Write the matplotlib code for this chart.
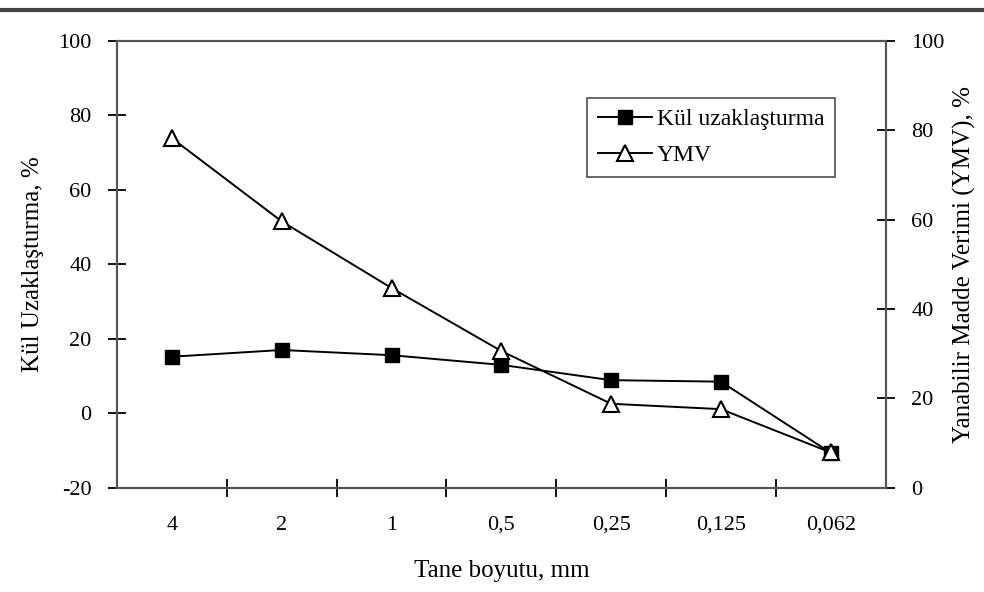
import matplotlib
matplotlib.use('Agg')
import matplotlib.pyplot as plt
from matplotlib.lines import Line2D
import numpy as np

plt.rcParams['font.family'] = ['Liberation Serif', 'DejaVu Serif']
plt.rcParams['axes.unicode_minus'] = False

# tane boyutu kategorileri
boyut = ['4', '2', '1', '0,5', '0,25', '0,125', '0,062']
kul = [15.2, 17.0, 15.6, 13.0, 8.9, 8.5, -10.6]   # sol eksen
ymv = [78.2, 59.6, 44.7, 30.6, 18.8, 17.6, 7.9]   # sag eksen
sol_ticks = [-20, 0, 20, 40, 60, 80, 100]
sag_ticks = [0, 20, 40, 60, 80, 100]

x = np.arange(len(boyut))

fig = plt.figure(figsize=(9.84, 5.92), dpi=100)
ax = fig.add_axes([0.119, 0.176, 0.781, 0.755])
ax2 = ax.twinx()

l1, = ax.plot(x, kul, color='black', lw=1.4, marker='s', ms=10.5,
              mfc='black', mec='black', label='Kül uzaklaşturma', zorder=3)
l2, = ax2.plot(x, ymv, color='black', lw=1.4, marker='^', ms=11,
               mfc='white', mec='black', mew=1.5, label='YMV', zorder=3)

ax.set_xlim(-0.5, len(boyut) - 0.5)
ax.set_ylim(-20, 100)
ax2.set_ylim(0, 100)

ax.set_xticks(x)
ax.set_xticklabels(boyut, fontsize=16)
ax.set_xticks(np.arange(0.5, len(boyut) - 1, 1), minor=True)
ax.tick_params(axis='x', which='major', length=0, pad=20)
ax.tick_params(axis='x', which='minor', direction='inout', length=13, width=1.3)

ax.set_yticks(sol_ticks)
ax.tick_params(axis='y', direction='inout', length=13, width=1.3, labelsize=16, pad=12)
ax2.set_yticks(sag_ticks)
ax2.tick_params(axis='y', direction='inout', length=13, width=1.3, labelsize=16, pad=12)

for a in (ax, ax2):
    for s in a.spines.values():
        s.set_color('#555555')
        s.set_linewidth(1.5)
ax.spines['top'].set_color('#888888')
ax.spines['bottom'].set_color('#888888')

ax.set_xlabel('Tane boyutu, mm', fontsize=18, labelpad=18)
ax.set_ylabel('Kül Uzaklaşturma, %', fontsize=18, labelpad=10)
ax2.set_ylabel('Yanabilir Madde Verimi (YMV), %', fontsize=18, labelpad=6)

leg = ax2.legend([l1, l2], ['Kül uzaklaşturma', 'YMV'], loc='upper right',
                 bbox_to_anchor=(0.934, 0.872), fontsize=17, frameon=True,
                 fancybox=False, edgecolor='#333333', handlelength=2.3,
                 handletextpad=0.2, borderpad=0.45, labelspacing=0.6,
                 borderaxespad=0)
leg.get_frame().set_linewidth(1.3)

# ust cizgi
fig.add_artist(Line2D([0, 1], [0.983, 0.983], transform=fig.transFigure,
                      color='#444444', lw=3))

fig.savefig('out.png', dpi=100)
